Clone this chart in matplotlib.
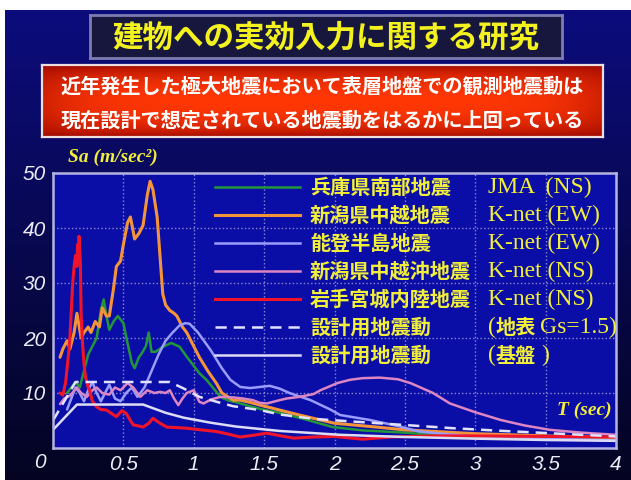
"""Response spectra of recent large earthquakes vs. design ground motion."""

import matplotlib.pyplot as plt
import numpy as np
from matplotlib.lines import Line2D

CJK = "Noto Sans CJK JP"
SERIF = "Liberation Serif"
YELLOW = "#f2ef3a"

TITLE = "建物への実効入力に関する研究"
SUBTITLE_1 = "近年発生した極大地震において表層地盤での観測地震動は"
SUBTITLE_2 = "現在設計で想定されている地震動をはるかに上回っている"

# Hyogo-ken Nanbu, JMA (NS)
T_HYOGO = [0.10, 0.13, 0.16, 0.19, 0.22, 0.25, 0.28, 0.31, 0.34, 0.36, 0.38, 0.40,
           0.43, 0.46, 0.50, 0.53, 0.56, 0.58, 0.61, 0.63, 0.66, 0.68, 0.70, 0.73,
           0.78, 0.84, 0.90, 0.95, 1.04, 1.09, 1.19, 1.24, 1.33, 1.47, 1.61, 1.75,
           1.99, 2.2, 2.5, 2.8, 3.0, 3.5, 4.0]
SA_HYOGO = [10, 11, 12, 11, 14, 17, 18.5, 20, 25, 27, 24, 21.5,
            23, 24, 22.7, 19, 15.5, 14.5, 16.5, 17.2, 18.5, 21, 17.5, 17.5,
            18.4, 19.1, 18.4, 16.6, 13.6, 12.4, 9.3, 8.7, 8.1, 7.1, 6.4, 5.5,
            3.8, 3.2, 2.8, 2.2, 2.0, 1.8, 1.6]

# Niigata Chuetsu, K-net (EW)
T_CHUETSU = [0.05, 0.07, 0.10, 0.12, 0.15, 0.17, 0.20, 0.22, 0.25, 0.27, 0.30, 0.33,
             0.35, 0.38, 0.40, 0.43, 0.45, 0.48, 0.50, 0.53, 0.55, 0.58, 0.61, 0.64,
             0.67, 0.69, 0.71, 0.74, 0.76, 0.78, 0.80, 0.83, 0.86, 0.88, 0.92, 0.95,
             1.00, 1.04, 1.10, 1.16, 1.20, 1.28, 1.33, 1.40, 1.47, 1.55, 1.61, 1.75,
             1.90, 2.00, 2.13, 2.30, 2.50, 3.00, 3.50, 4.00]
SA_CHUETSU = [16.5, 18, 19.5, 18, 21, 24.5, 20, 21, 22, 21, 23, 22,
              25.5, 24, 24, 29, 33, 34, 37, 41, 42, 38, 39, 40.5,
              46, 48.5, 47, 42, 35, 28, 26, 25, 24.5, 24, 22, 21,
              18.5, 16.5, 14, 11.8, 10, 8.7, 8.7, 8.3, 7.8, 7.3, 6.9, 6.0,
              5.1, 4.5, 4.2, 3.8, 3.3, 2.6, 2.2, 1.9]

# Noto Hanto, K-net (EW)
T_NOTO = [0.10, 0.13, 0.16, 0.19, 0.22, 0.25, 0.28, 0.31, 0.34, 0.37, 0.40, 0.44,
          0.48, 0.52, 0.56, 0.60, 0.65, 0.70, 0.75, 0.80, 0.85, 0.90, 0.94, 0.97,
          1.03, 1.12, 1.20, 1.26, 1.33, 1.40, 1.47, 1.54, 1.61, 1.68, 1.83, 1.97,
          2.04, 2.25, 2.45, 2.6, 2.8, 3.0, 3.5, 4.0]
SA_NOTO = [7, 9, 11, 10, 8.5, 10.5, 12, 10, 8.5, 10, 11.5, 9,
           8.5, 10, 11, 9.3, 11, 14, 17, 19.5, 21, 22.3, 22.7, 22.6,
           21, 17.8, 14.5, 12.4, 11.1, 10.9, 11.1, 11.3, 10.8, 10, 8.7, 7,
           6, 5.1, 4, 3, 2.5, 2.1, 1.7, 1.4]

# Niigata Chuetsu-oki, K-net (NS)
T_CHUETSU_OKI = [0.05, 0.08, 0.12, 0.17, 0.20, 0.24, 0.28, 0.31, 0.35, 0.40, 0.44, 0.48,
                 0.53, 0.57, 0.62, 0.67, 0.72, 0.76, 0.80, 0.83, 0.86, 0.89, 0.92, 0.95,
                 1.00, 1.04, 1.07, 1.12, 1.19, 1.28, 1.35, 1.42, 1.47, 1.52, 1.61, 1.66,
                 1.75, 1.85, 1.90, 2.02, 2.11, 2.20, 2.32, 2.45, 2.54, 2.70, 2.82, 3.00,
                 3.18, 3.35, 3.53, 3.75, 4.00]
SA_CHUETSU_OKI = [8, 9, 9.5, 11, 10, 9.3, 10.5, 11, 10, 9.7, 11, 10.5,
                  11.8, 11, 9.3, 10.5, 10, 10.2, 10, 10.5, 9, 7.8, 9, 10,
                  10.5, 8.4, 8.1, 8.8, 9.3, 9.2, 9, 8.7, 8.2, 8.1, 8.7, 9,
                  9.3, 9.8, 10.5, 11.8, 12.4, 12.7, 12.8, 12.5, 11.8, 10, 8.1, 6.5,
                  5.1, 4.1, 3.3, 2.8, 2.4]

# Iwate-Miyagi Nairiku, K-net (NS)
T_IWATE = [0.05, 0.07, 0.09, 0.11, 0.12, 0.13, 0.14, 0.15, 0.16, 0.17, 0.175, 0.18,
           0.185, 0.19, 0.195, 0.20, 0.21, 0.22, 0.23, 0.25, 0.26, 0.28, 0.31, 0.34,
           0.38, 0.42, 0.45, 0.49, 0.52, 0.55, 0.57, 0.61, 0.64, 0.68, 0.71, 0.76,
           0.81, 0.88, 0.95, 1.05, 1.16, 1.25, 1.33, 1.42, 1.52, 1.62, 1.71, 1.85,
           2.0, 2.2, 2.4, 2.7, 3.0, 3.5, 4.0]
SA_IWATE = [10, 9.6, 12, 17, 20, 25, 30, 33, 35, 33, 37, 34,
            38.5, 36, 33, 24, 19, 15.4, 13, 11, 10.5, 8.5, 7.5, 7.0,
            6.9, 6.2, 5.7, 6.8, 6.3, 5, 4.2, 4, 3.8, 4.5, 5.4, 4.5,
            3.8, 3.7, 3.6, 3.3, 3.0, 2.5, 2.0, 2.3, 2.7, 2.2, 1.8, 2.0,
            2.1, 1.6, 2.0, 2.2, 2.2, 2.1, 2.0]

# design spectra: ground surface (Gs=1.5) and engineering bedrock
T_DESIGN_SURFACE = [0.0, 0.16, 0.83, 0.93, 1.04, 1.19, 1.28, 1.47, 1.61, 1.85, 2.02,
                    2.37, 2.84, 3.2, 3.6, 4.0]
SA_DESIGN_SURFACE = [5.0, 12, 12, 10.8, 9.3, 8.2, 7.6, 6.9, 6.1, 5.3, 5.0,
                     4.4, 3.6, 3.1, 2.6, 2.1]
T_DESIGN_BASE = [0.0, 0.17, 0.64, 0.80, 0.93, 1.12, 1.30, 1.61, 2.04, 2.5, 3.0, 3.5, 4.0]
SA_DESIGN_BASE = [3.3, 7.9, 7.9, 6.4, 5.5, 4.6, 3.9, 3.1, 2.4, 2.0, 1.7, 1.45, 1.3]

EVENT_NAMES = ["兵庫県南部地震", "新潟県中越地震", "能登半島地震", "新潟県中越沖地震",
               "岩手宮城内陸地震", "設計用地震動", "設計用地震動"]
STATION_NAMES = ["JMA  (NS)", "K-net (EW)", "K-net (EW)", "K-net (NS)", "K-net (NS)",
                 "", ""]

X_TICKS = [0.5, 1, 1.5, 2, 2.5, 3, 3.5, 4]
X_TICK_LABELS = ["0.5", "1", "1.5", "2", "2.5", "3", "3.5", "4"]
Y_TICKS = [10, 20, 30, 40, 50]

W, H = 631, 480


def fig_rect(x0, y0, x1, y1):
    """Pixel box (top-left origin) -> figure fraction rect."""
    return [x0 / W, 1 - y1 / H, (x1 - x0) / W, (y1 - y0) / H]


def ax_xy(ax_box, px, py):
    """Pixel position -> axes fraction inside the given pixel box."""
    x0, y0, x1, y1 = ax_box
    return (px - x0) / (x1 - x0), (y1 - py) / (y1 - y0)


fig = plt.figure(figsize=(W / 100, H / 100), dpi=100, facecolor="white")

# dark navy backdrop, fading towards the bottom
bg = fig.add_axes(fig_rect(5, 10, W, H), zorder=-5)
grad = np.linspace(0, 1, 256)[:, None]
top = np.array([12, 12, 125]) / 255
bottom = np.array([4, 4, 34]) / 255
bg.imshow(top + grad[..., None] * (bottom - top), aspect="auto",
          extent=(0, 1, 0, 1))
bg.axis("off")

# title plate
title_ax = fig.add_axes(fig_rect(90, 15, 562, 58))
title_ax.set_facecolor("#17173e")
title_ax.set_xticks([])
title_ax.set_yticks([])
for s in title_ax.spines.values():
    s.set_color("#7c7cb0")
    s.set_linewidth(2)
title_ax.text(0.5, 0.47, TITLE, ha="center", va="center", color="#f4f21e",
              fontsize=22, family=CJK, fontweight="bold")

# red banner with a glowing centre
banner = fig.add_axes(fig_rect(42, 65, 603, 137))
u = np.linspace(-1, 1, 400)[None, :]
v = np.linspace(-1, 1, 100)[:, None]
glow = (1 - v ** 2) ** 0.6 * (1 - 0.45 * np.abs(u) ** 6)
dark = np.array([150, 5, 0]) / 255
bright = np.array([255, 55, 5]) / 255
banner.imshow(dark + glow[..., None] * (bright - dark), aspect="auto",
              extent=(0, 1, 0, 1))
banner.set_xlim(0, 1)
banner.set_ylim(0, 1)
banner.set_xticks([])
banner.set_yticks([])
for s in banner.spines.values():
    s.set_color("#ecdede")
    s.set_linewidth(1.6)
banner.text(0.5, 0.71, SUBTITLE_1, ha="center", va="center", color="white",
            fontsize=14.5, family=CJK, fontweight="bold")
banner.text(0.5, 0.24, SUBTITLE_2, ha="center", va="center", color="white",
            fontsize=14.5, family=CJK, fontweight="bold")

# spectra
AX_BOX = (53, 173, 616, 448)
ax = fig.add_axes(fig_rect(*AX_BOX))
ax.set_facecolor("#0b0ea6")

series = [
    (T_HYOGO, SA_HYOGO, dict(color="#23963a", lw=1.8)),
    (T_CHUETSU, SA_CHUETSU, dict(color="#f4943a", lw=2.2)),
    (T_NOTO, SA_NOTO, dict(color="#9a9cff", lw=1.8)),
    (T_CHUETSU_OKI, SA_CHUETSU_OKI, dict(color="#dc86c4", lw=1.8)),
    (T_IWATE, SA_IWATE, dict(color="#f0142a", lw=2.2)),
    (T_DESIGN_SURFACE, SA_DESIGN_SURFACE,
     dict(color="#e2e2ff", lw=1.8, linestyle=(0, (4.5, 2.8)))),
    (T_DESIGN_BASE, SA_DESIGN_BASE, dict(color="#dcdcf4", lw=1.8)),
]
for t, sa, style in series:
    ax.plot(t, sa, solid_capstyle="round", **style)

ax.set_xlim(0, 4)
ax.set_ylim(0, 50)
ax.set_xticks(X_TICKS)
ax.set_xticklabels(X_TICK_LABELS)
ax.set_yticks(Y_TICKS)
ax.tick_params(length=0, colors="#ececf6", labelsize=15, pad=5)
for lab in ax.get_xticklabels() + ax.get_yticklabels():
    lab.set_family("Liberation Sans")
    lab.set_style("italic")
ax.grid(True, color="#8888cc", linestyle=":", linewidth=1)
for s in ax.spines.values():
    s.set_color("#b4b4e2")
    s.set_linewidth(1.8)

# shared origin label
fig.text(40 / W, 1 - 463 / H, "0", ha="center", va="center", color="#ececf6",
         fontsize=15, family="Liberation Sans", style="italic")

fig.text(68 / W, 1 - 157 / H, "Sa (m/sec²)", ha="left", va="center", color=YELLOW,
         fontsize=14, family=SERIF, fontweight="bold", style="italic")
ax.text(0.993, 0.138, "T (sec)", transform=ax.transAxes, ha="right", va="center",
        color=YELLOW, fontsize=14, family=SERIF, fontweight="bold", style="italic")

# two-column legend drawn row by row
row0, step = 187, 28
x_line0, _ = ax_xy(AX_BOX, 215, 0)
x_line1, _ = ax_xy(AX_BOX, 300, 0)
x_name, _ = ax_xy(AX_BOX, 310, 0)
x_station, _ = ax_xy(AX_BOX, 488, 0)
rows = [ax_xy(AX_BOX, 0, row0 + i * step)[1] for i in range(len(series))]
for (_, _, style), name, station, y in zip(series, EVENT_NAMES, STATION_NAMES, rows):
    ax.add_line(Line2D([x_line0, x_line1], [y, y], transform=ax.transAxes, **style))
    ax.text(x_name, y, name, transform=ax.transAxes, ha="left", va="center",
            color=YELLOW, fontsize=14.5, family=CJK, fontweight="bold")
    if station:
        ax.text(x_station, y, station, transform=ax.transAxes, ha="left",
                va="center", color=YELLOW, fontsize=17, family=SERIF)

# design-spectrum notes: serif brackets around bold kanji
cjk_style = dict(transform=ax.transAxes, ha="left", va="center", color=YELLOW,
                 fontsize=14.5, family=CJK, fontweight="bold")
serif_style = dict(transform=ax.transAxes, ha="left", va="center", color=YELLOW,
                   fontsize=17, family=SERIF, clip_on=False)
ax.text(x_station, rows[5], "(", **serif_style)
ax.text(ax_xy(AX_BOX, 496, 0)[0], rows[5], "地表", **cjk_style)
ax.text(ax_xy(AX_BOX, 540, 0)[0], rows[5], "Gs=1.5)", **serif_style)
ax.text(x_station, rows[6], "(", **serif_style)
ax.text(ax_xy(AX_BOX, 496, 0)[0], rows[6], "基盤", **cjk_style)
ax.text(ax_xy(AX_BOX, 541, 0)[0], rows[6], ")", **serif_style)

fig.savefig("out.png", dpi=100)
